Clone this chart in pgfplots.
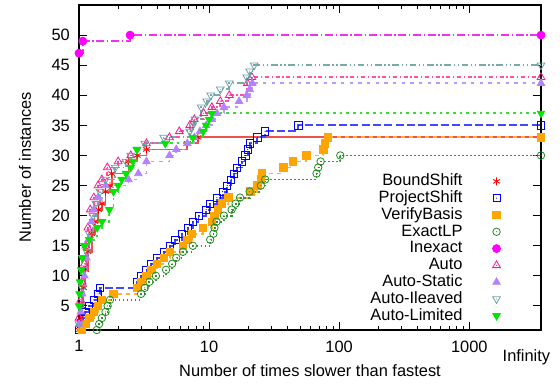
\documentclass[border=0pt]{standalone}
\usepackage{fontspec}
\setmainfont{Liberation Sans}
\usepackage{pgfplots}
\usepackage{pgfplotstable}
\pgfplotsset{compat=1.18}
\newcommand{\fsz}{\fontsize{12.3}{14}\selectfont}

\pgfdeclareplotmark{sqdot}{%
  \pgfpathrectangle{\pgfpoint{-\pgfplotmarksize}{-\pgfplotmarksize}}{\pgfpoint{2\pgfplotmarksize}{2\pgfplotmarksize}}%
  \pgfusepathqstroke
  \pgfpathcircle{\pgfpointorigin}{0.45pt}\pgfusepathqfill}
\pgfdeclareplotmark{cirdot}{%
  \pgfpathcircle{\pgfpointorigin}{\pgfplotmarksize}\pgfusepathqstroke
  \pgfpathcircle{\pgfpointorigin}{0.45pt}\pgfusepathqfill}
\pgfdeclareplotmark{tridot}{%
  \pgfpathmoveto{\pgfpointpolar{90}{1.2\pgfplotmarksize}}%
  \pgfpathlineto{\pgfpointpolar{210}{1.2\pgfplotmarksize}}%
  \pgfpathlineto{\pgfpointpolar{330}{1.2\pgfplotmarksize}}%
  \pgfpathclose\pgfusepathqstroke
  \pgfpathcircle{\pgfpointorigin}{0.45pt}\pgfusepathqfill}
\pgfdeclareplotmark{itridot}{%
  \pgfpathmoveto{\pgfpointpolar{270}{1.2\pgfplotmarksize}}%
  \pgfpathlineto{\pgfpointpolar{30}{1.2\pgfplotmarksize}}%
  \pgfpathlineto{\pgfpointpolar{150}{1.2\pgfplotmarksize}}%
  \pgfpathclose\pgfusepathqstroke
  \pgfpathcircle{\pgfpointorigin}{0.45pt}\pgfusepathqfill}
\pgfdeclareplotmark{itrifill}{%
  \pgfpathmoveto{\pgfpointpolar{270}{1.2\pgfplotmarksize}}%
  \pgfpathlineto{\pgfpointpolar{30}{1.2\pgfplotmarksize}}%
  \pgfpathlineto{\pgfpointpolar{150}{1.2\pgfplotmarksize}}%
  \pgfpathclose\pgfusepathqfillstroke}

\definecolor{mBS}{RGB}{255,0,0}
\definecolor{lBS}{RGB}{240,80,80}
\definecolor{mPS}{RGB}{0,0,255}
\definecolor{lPS}{RGB}{70,70,255}
\definecolor{mVB}{RGB}{255,165,0}
\definecolor{lVB}{RGB}{255,175,50}
\definecolor{mEX}{RGB}{34,139,34}
\definecolor{lEX}{RGB}{50,150,50}
\definecolor{mIN}{RGB}{255,0,255}
\definecolor{lIN}{RGB}{240,50,240}
\definecolor{mAU}{RGB}{255,20,147}
\definecolor{lAU}{RGB}{255,80,165}
\definecolor{mAS}{RGB}{180,130,255}
\definecolor{lAS}{RGB}{190,150,255}
\definecolor{mAI}{RGB}{110,160,165}
\definecolor{lAI}{RGB}{120,170,172}
\definecolor{mAL}{RGB}{0,230,0}
\definecolor{lAL}{RGB}{50,225,50}

% ratio  count  (last row = "Infinity", drawn at the right border)
\pgfplotstableread{
x y
1 1
1.02 3
1.05 5
1.08 8
1.12 11
1.17 14
1.25 17
1.32 19
1.41 21
1.5 22
1.6 24
1.73 25
1.78 27
2.4 29
2.8 30
3.3 31
6.8 32
8.2 33
3560 33
}\dBS
\pgfplotstableread{
x y
1 1
1.03 2
1.07 3
1.12 4
1.2 5
1.3 6
1.4 7
1.45 8
2.8 9
3.0 10
3.3 11
3.6 12
4.0 13
4.5 14
5.0 15
5.5 16
6.2 17
6.9 18
7.5 19
8.3 20
9.5 21
10.1 22
11.5 23
12.7 24
13.8 25
14.8 26
15.6 27
16.4 28
17.8 29
19.0 30
19.8 31
20.5 32
23.5 33
27 34
48.6 35
3560 35
}\dPS
\pgfplotstableread{
x y
1.05 1
1.12 2
1.2 3
1.3 4
1.4 5
1.5 6
1.84 7
2.8 8
3.0 9
3.3 10
3.6 11
3.96 12
4.5 13
5.0 14
6.3 15
6.8 16
7.4 17
9.0 18
10.5 19
11.0 20
11.7 21
12.5 22
14.1 23
20.7 24
23.5 25
25 26
25.4 27
37.4 28
44 29
56 30
75.6 31
78 32
81.6 33
3560 33
}\dVB
\pgfplotstableread{
x y
1.37 1
1.43 2
1.5 3
1.6 4
1.66 5
1.73 6
3.0 7
3.2 8
3.47 9
3.9 10
4.67 11
5.2 12
5.6 13
6.3 14
7.5 15
10.2 16
10.8 17
11.0 18
11.4 19
13.0 20
14.9 21
16.0 22
17.3 23
20.5 24
25 25
27 26
67 27
69 28
72 29
102 30
3560 30
}\dEX
\pgfplotstableread{
x y
1 47
1.07 49
2.47 50
3560 50
}\dIN
\pgfplotstableread{
x y
1 3
1.03 6
1.06 9
1.1 12
1.13 15
1.17 18
1.22 21
1.3 23
1.4 25
1.5 26
1.65 28
2.0 29
2.5 30
3.3 32
4.96 33
5.9 34
7.1 35
7.7 36
9.1 37
10.5 38
12.2 39
14.3 40
19.7 42
21.3 43
3560 43
}\dAU
\pgfplotstableread{
x y
1 2
1.03 4
1.06 7
1.1 10
1.14 13
1.18 16
1.25 19
1.3 21
1.4 23
1.6 25
2.4 26
2.86 27
3.3 29
4.96 30
5.6 31
6.8 32
7.7 33
8.5 34
9.5 35
10.5 36
11.5 37
13.0 38
17 39
19.5 40
20.5 41
21.5 42
3560 42
}\dAS
\pgfplotstableread{
x y
1 2
1.03 5
1.06 8
1.1 11
1.15 14
1.2 17
1.28 20
1.35 22
1.45 24
1.6 26
1.9 28
2.3 29
2.5 30
2.8 31
3.2 32
4.47 33
7.1 34
7.5 35
7.8 36
8.7 38
9.6 39
10.3 40
12.2 41
14.3 42
19.5 43
20.5 44
22.2 45
3560 45
}\dAI
\pgfplotstableread{
x y
1 5
1.01 7
1.02 9
1.04 11
1.06 13
1.1 15
1.2 16
1.38 18
1.5 19
1.71 21
1.84 24
2.0 25
2.13 26
2.3 27
2.5 28
2.6 29
2.78 31
4.6 32
7.5 33
9.0 34
9.5 35
10.0 36
10.5 37
3560 37
}\dAL

\pgfplotsset{
  prof/.style n args={3}{const plot, line width=1.4pt, color=#1,
    mark options={solid, line width=0.6pt, draw=#2, fill=#2},
    legend image code/.code={\draw[##1, only marks, mark repeat=2, mark phase=2]
      plot coordinates {(0cm,0cm) (0.2cm,0cm) (0.4cm,0cm)};},
    #3},
}

\begin{document}
\begin{tikzpicture}
\begin{axis}[
  scale only axis, width=346.5pt, height=243.75pt,
  xmode=log, xmin=1, xmax=3560, ymin=1, ymax=55,
  xtick={1,10,100,1000}, xticklabels={1,10,100,1000},
  ytick={5,10,15,20,25,30,35,40,45,50},
  /pgf/number format/assume math mode=true,
  tick align=inside, tick pos=both,
  major tick length=6pt, minor tick length=3pt,
  axis line style={line width=0.9pt},
  every tick/.style={black, line width=0.7pt},
  tick label style={font=\fsz},
  xticklabel style={yshift=-4.5pt},
  yticklabel style={xshift=-3.4pt},
  xlabel={Number of times slower than fastest},
  ylabel={Number of instances},
  every axis x label/.style={font=\fsz, at={(axis description cs:0.5,0)}, anchor=base, yshift=-34.5pt},
  every axis y label/.style={font=\fsz, at={(axis description cs:-0.104,0.5)}, anchor=base, rotate=90},
  clip=false,
  legend cell align=right, legend plot pos=right,
  legend style={draw=none, fill=none, at={(axis description cs:0.913,0.484)}, anchor=north east,
    inner xsep=0pt, inner ysep=0pt, row sep=0pt, column sep=22pt, font=\fsz,
    nodes={inner sep=0.5pt, text height=9pt, text depth=2.6pt}},
]
\addplot[prof={lBS}{mBS}{solid, mark=asterisk, mark size=3pt}] table {\dBS};
\addlegendentry{BoundShift}
\addplot[prof={lPS}{mPS}{dash pattern=on 6pt off 2.5pt, mark=sqdot, mark size=2.7pt}] table {\dPS};
\addlegendentry{ProjectShift}
\addplot[prof={lVB}{mVB}{dash pattern=on 3pt off 3pt, mark=square*, mark size=2.8pt}] table {\dVB};
\addlegendentry{VerifyBasis}
\addplot[prof={lEX}{mEX}{dash pattern=on 1pt off 2pt, mark=cirdot, mark size=2.8pt}] table {\dEX};
\addlegendentry{ExactLP}
\addplot[prof={lIN}{mIN}{dash pattern=on 6pt off 2pt on 1pt off 2pt, mark=*, mark size=3pt}] table {\dIN};
\addlegendentry{Inexact}
\addplot[prof={lAU}{mAU}{dash pattern=on 3pt off 2pt on 1pt off 2pt, mark=tridot, mark size=2.8pt}] table {\dAU};
\addlegendentry{Auto}
\addplot[prof={lAS}{mAS}{dash pattern=on 2.5pt off 4pt, mark=triangle*, mark size=3.2pt}] table {\dAS};
\addlegendentry{Auto-Static}
\addplot[prof={lAI}{mAI}{dash pattern=on 5pt off 2pt on 1pt off 2pt on 1pt off 2pt, mark=itridot, mark size=2.8pt}] table {\dAI};
\addlegendentry{Auto-Ileaved}
\addplot[prof={lAL}{mAL}{dash pattern=on 2pt off 3pt, mark=itrifill, mark size=2.7pt}] table {\dAL};
\addlegendentry{Auto-Limited}

\node[anchor=base, font=\fsz] at (axis cs:2750,1) [yshift=-23.8pt] {Infinity};
\end{axis}
\pgfresetboundingbox
\useasboundingbox (-59.25pt,-42pt) rectangle (360.75pt,247.5pt);
\end{tikzpicture}
\end{document}
